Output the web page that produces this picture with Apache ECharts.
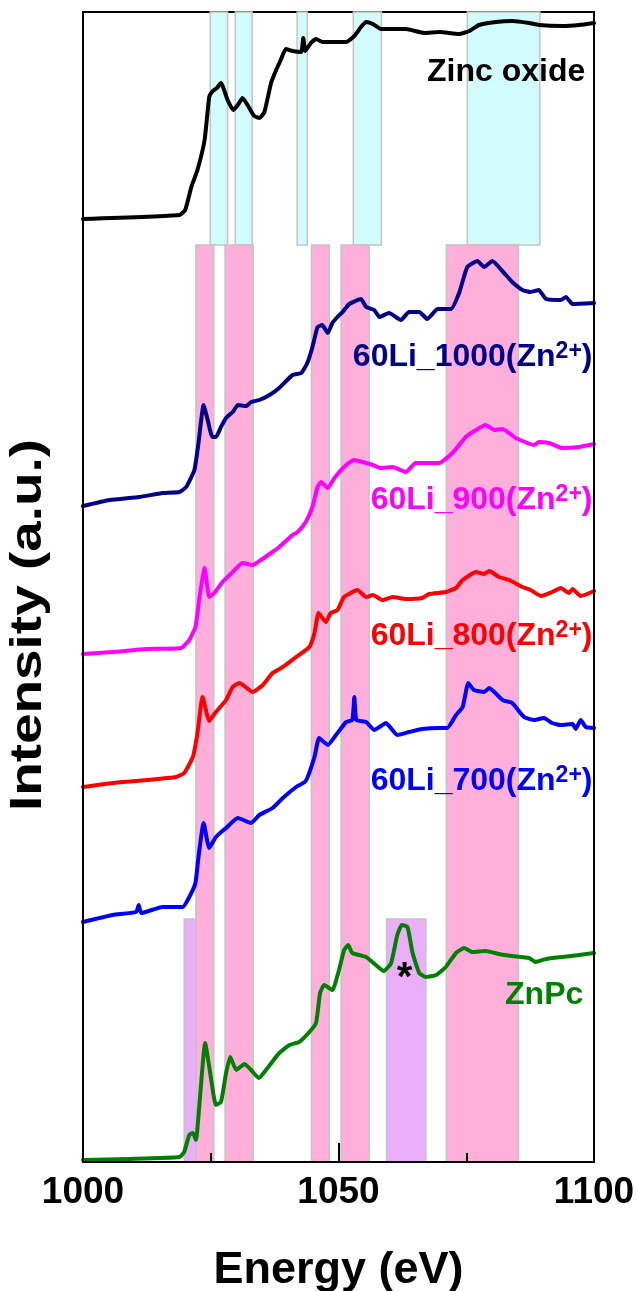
<!DOCTYPE html>
<html><head><meta charset="utf-8">
<script src="https://cdn.jsdelivr.net/npm/echarts@6/dist/echarts.min.js"></script>
<style>html,body{margin:0;padding:0;background:#fff}#c{width:637px;height:1291px}</style>
</head><body><div id="c"></div>
<script>
// ---- data (energy in eV, stacked intensity in a.u.) ----
const energyTicks = [1000, 1050, 1100];
const zincOxide = [[1000,943],[1018.9,947],[1020.0,952],[1021.2,975],[1022.4,992],[1023.8,1022],[1024.7,1065],[1025.4,1071],[1026.2,1074],[1027.0,1079],[1028.3,1062],[1029.4,1052],[1030.3,1057],[1031.2,1064],[1032.2,1057],[1033.5,1046],[1034.5,1044],[1035.5,1050],[1036.8,1079],[1037.8,1092],[1038.7,1102],[1039.7,1113],[1041.0,1111],[1042.7,1110],[1043.1,1124],[1043.5,1111],[1044.6,1119],[1045.6,1123],[1046.9,1120],[1051.5,1120],[1053.1,1126],[1054.4,1135],[1055.4,1140],[1056.7,1138],[1058.3,1133],[1060.6,1133],[1063.2,1133],[1066.8,1129],[1069.7,1130],[1073.6,1128],[1075.6,1131],[1077.5,1137],[1080.8,1140],[1084.0,1141],[1087.3,1139],[1089.2,1137],[1093.8,1136],[1097.1,1137],[1100,1139]];
const li1000 = [[1000,656],[1005.2,662],[1011.0,665],[1015.6,669],[1018.9,670],[1020.2,675],[1021.8,692],[1022.6,719],[1023.6,757],[1024.4,742],[1025.3,725],[1026.0,725],[1027.0,735],[1028.0,744],[1029.3,750],[1030.3,757],[1031.9,756],[1032.9,760],[1034.5,762],[1036.5,767],[1038.4,774],[1041.0,787],[1042.7,789],[1043.9,799],[1044.9,815],[1045.9,835],[1046.8,837],[1047.9,829],[1048.8,839],[1049.8,845],[1050.8,850],[1052.1,858],[1054.4,863],[1055.4,855],[1057.0,852],[1058.0,845],[1059.9,849],[1062.2,842],[1063.8,850],[1065.8,850],[1067.4,843],[1069.4,853],[1072.0,853],[1073.6,869],[1075.2,895],[1077.2,901],[1078.5,895],[1080.1,901],[1082.4,889],[1084.0,880],[1086.0,872],[1087.6,870],[1089.2,872],[1090.6,863],[1093.5,862],[1094.5,865],[1095.8,858],[1100,859]];
const li900 = [[1000,508],[1005.8,510],[1012.4,513],[1019.2,514],[1020.8,522],[1022.0,535],[1022.8,565],[1023.8,594],[1024.7,565],[1025.7,569],[1027.3,580],[1029.3,590],[1031.2,599],[1033.2,597],[1034.8,602],[1036.8,609],[1038.4,615],[1041.0,627],[1042.0,630],[1043.6,640],[1044.9,655],[1045.9,675],[1046.6,680],[1047.9,674],[1049.2,684],[1051.5,697],[1053.1,702],[1054.7,700],[1056.7,697],[1058.3,694],[1060.6,695],[1063.2,690],[1065.1,699],[1069.7,699],[1072.3,709],[1074.9,725],[1076.9,732],[1078.8,737],[1080.5,732],[1082.1,733],[1084.7,724],[1088.3,717],[1089.2,720],[1091.2,719],[1093.8,714],[1097.1,715],[1100,718]];
const li800 = [[1000,375],[1005.8,379],[1012.4,382],[1018.2,385],[1019.8,389],[1021.5,405],[1022.4,429],[1023.4,465],[1024.7,441],[1026.0,450],[1028.0,462],[1029.3,475],[1030.6,479],[1033.2,470],[1035.2,477],[1037.1,489],[1039.1,495],[1041.7,505],[1044.3,515],[1045.3,529],[1046.1,549],[1047.5,540],[1048.5,549],[1049.8,552],[1051.1,565],[1053.7,572],[1055.4,565],[1056.7,567],[1058.6,562],[1060.6,565],[1063.2,563],[1066.4,564],[1067.7,568],[1071.0,570],[1073.0,574],[1074.3,582],[1076.9,590],[1078.5,588],[1079.5,591],[1081.4,585],[1083.4,582],[1086.0,575],[1087.6,572],[1089.6,566],[1091.8,570],[1093.5,574],[1095.1,569],[1095.8,573],[1097.4,566],[1100,571]];
const li700 = [[1000,240],[1005.8,247],[1010.4,250],[1010.9,257],[1011.4,249],[1015.6,255],[1019.5,255],[1020.8,265],[1022.0,279],[1022.6,305],[1023.6,339],[1024.7,314],[1026.0,325],[1028.0,334],[1030.3,344],[1032.9,339],[1034.5,347],[1037.1,354],[1039.1,364],[1041.7,375],[1043.6,381],[1045.3,405],[1046.2,424],[1047.9,417],[1049.5,427],[1051.5,440],[1052.7,442],[1053.1,465],[1053.5,442],[1055.4,440],[1057.0,432],[1058.0,435],[1059.3,439],[1061.5,427],[1063.8,430],[1066.4,433],[1069.7,434],[1071.3,434],[1073.0,447],[1074.3,455],[1075.4,479],[1076.5,472],[1078.5,470],[1079.5,474],[1082.1,462],[1084.0,459],[1086.3,445],[1088.3,442],[1090.2,444],[1091.8,439],[1093.5,437],[1095.8,438],[1096.4,433],[1097.4,442],[1098.4,435],[1100,434]];
const znPc = [[1000,2],[1009.1,3],[1018.9,5],[1019.8,10],[1020.8,27],[1021.5,29],[1022.1,22],[1022.9,65],[1023.9,119],[1025.1,82],[1026.0,57],[1027.0,60],[1028.0,89],[1028.8,105],[1030.0,92],[1031.6,98],[1032.9,92],[1034.4,84],[1036.1,94],[1038.4,109],[1040.4,117],[1042.3,120],[1044.3,130],[1045.6,139],[1046.4,169],[1047.2,177],[1048.8,172],[1050.1,192],[1051.1,212],[1051.9,217],[1052.7,209],[1055.4,205],[1057.3,197],[1058.9,191],[1060.3,199],[1061.5,227],[1062.4,237],[1063.5,235],[1064.5,209],[1065.8,189],[1067.1,185],[1069.1,187],[1071.0,195],[1073.0,209],[1074.6,214],[1076.2,210],[1078.8,211],[1081.4,208],[1084.0,206],[1087.3,204],[1088.6,200],[1090.6,203],[1093.8,205],[1097.1,207],[1100,209]];
const cyanBands = [[1024.9,1028.3],[1029.8,1033.1],[1041.9,1043.9],[1052.9,1058.4],[1075.2,1089.4]];
const pinkBands = [[1022.1,1025.6],[1027.8,1033.3],[1044.7,1048.2],[1050.5,1056.0],[1071.1,1085.2]];
const purpleBands = [[1019.8,1022.1],[1059.4,1067.1]];
const seriesNames = ['Zinc oxide','60Li_1000(Zn','60Li_900(Zn','60Li_800(Zn','60Li_700(Zn','ZnPc'];

// ---- chart ----
const FONT = '"Liberation Sans", Arial, Helvetica, sans-serif';
const colors = ['#000000','#00008B','#FF00FF','#FF0000','#0000FF','#008000'];
const seriesData = [zincOxide, li1000, li900, li800, li700, znPc];
const labelAnchors = [[1098.4,1090],[1099.8,805],[1099.8,662],[1099.8,526],[1099.8,381],[1098.0,167]];

function areas(bands, y0, y1, fill) {
  return bands.map(b => [
    {xAxis: b[0], yAxis: y0, itemStyle: {color: fill, borderColor: '#c4c4c4', borderWidth: 1.5}},
    {xAxis: b[1], yAxis: y1}
  ]);
}
function rich(color) {
  return {
    m: {fontSize: 32, fontWeight: 'bold', fontFamily: FONT, color: color, lineHeight: 34},
    s: {fontSize: 23, fontWeight: 'bold', fontFamily: FONT, color: color, lineHeight: 12, verticalAlign: 'top'}
  };
}

const series = [{
  type: 'line', data: [], silent: true, z: 1,
  markArea: {silent: true, data: [].concat(
    areas(cyanBands, 917, 1150, '#D2FCFC'),
    areas(pinkBands, 0, 917, '#FFAFD9'),
    areas(purpleBands, 0, 243, '#EAAEFA'))}
}];
seriesData.forEach((d, i) => series.push({
  type: 'line', name: seriesNames[i], data: d, symbol: 'none', smooth: 0.15, z: 3,
  lineStyle: {color: colors[i], width: 4, join: 'round', cap: 'round'}
}));
series.push({
  type: 'scatter', symbolSize: 1, z: 5, silent: true,
  itemStyle: {color: 'rgba(0,0,0,0)', opacity: 1},
  data: seriesNames.map((n, i) => ({
    value: labelAnchors[i],
    label: {
      show: true, position: 'left', distance: 0, opacity: 1,
      formatter: (i >= 1 && i <= 4) ? '{m|' + n + '}{s|2+}{m|)}' : '{m|' + n + '}',
      rich: rich(colors[i])
    }
  })).concat([{
    value: [1062.9, 183],
    label: {show: true, position: 'inside', opacity: 1, formatter: '*', fontSize: 40, fontWeight: 'bold', fontFamily: FONT, color: '#000', textBorderWidth: 0}
  }])
});

const chart = echarts.init(document.getElementById('c'));
chart.setOption({
  animation: false,
  backgroundColor: '#fff',
  grid: {left: 83, right: 43, top: 12, bottom: 129, show: true, borderColor: '#000', borderWidth: 2,
         backgroundColor: 'transparent', outerBoundsMode: 'none', containLabel: false},
  xAxis: [{
    type: 'value', min: energyTicks[0], max: energyTicks[2], interval: 50, z: 10,
    axisLine: {show: true, lineStyle: {color: '#000', width: 2}},
    axisTick: {show: true, inside: true, length: 19, lineStyle: {color: '#000', width: 2}},
    minorTick: {show: true, splitNumber: 2, length: 9, lineStyle: {color: '#000', width: 2}},
    axisLabel: {show: true, fontSize: 37, fontWeight: 'bold', fontFamily: FONT, color: '#000', margin: 12, formatter: v => String(v)},
    splitLine: {show: false},
    name: 'Energy (eV)', nameLocation: 'middle', nameGap: 86,
    nameTextStyle: {fontSize: 45, fontWeight: 'bold', fontFamily: FONT, color: '#000'}
  }, {
    type: 'value', position: 'top', min: energyTicks[0], max: energyTicks[2], z: 10,
    axisLine: {show: true, lineStyle: {color: '#000', width: 2}},
    axisTick: {show: false}, axisLabel: {show: false}, splitLine: {show: false}
  }],
  yAxis: [{
    type: 'value', min: 0, max: 1150, z: 10,
    axisLine: {show: true, lineStyle: {color: '#000', width: 2}},
    axisTick: {show: false}, axisLabel: {show: false}, splitLine: {show: false}
  }, {
    type: 'value', position: 'right', min: 0, max: 1150, z: 10,
    axisLine: {show: true, lineStyle: {color: '#000', width: 2}},
    axisTick: {show: false}, axisLabel: {show: false}, splitLine: {show: false}
  }],
  graphic: [{
    type: 'text', x: 29, y: 625, rotation: Math.PI / 2, scaleX: 1.22,
    style: {text: 'Intensity (a.u.)', font: 'bold 45px ' + FONT, fill: '#000', textAlign: 'center', textVerticalAlign: 'middle'}
  }],
  series: series
});
</script></body></html>
